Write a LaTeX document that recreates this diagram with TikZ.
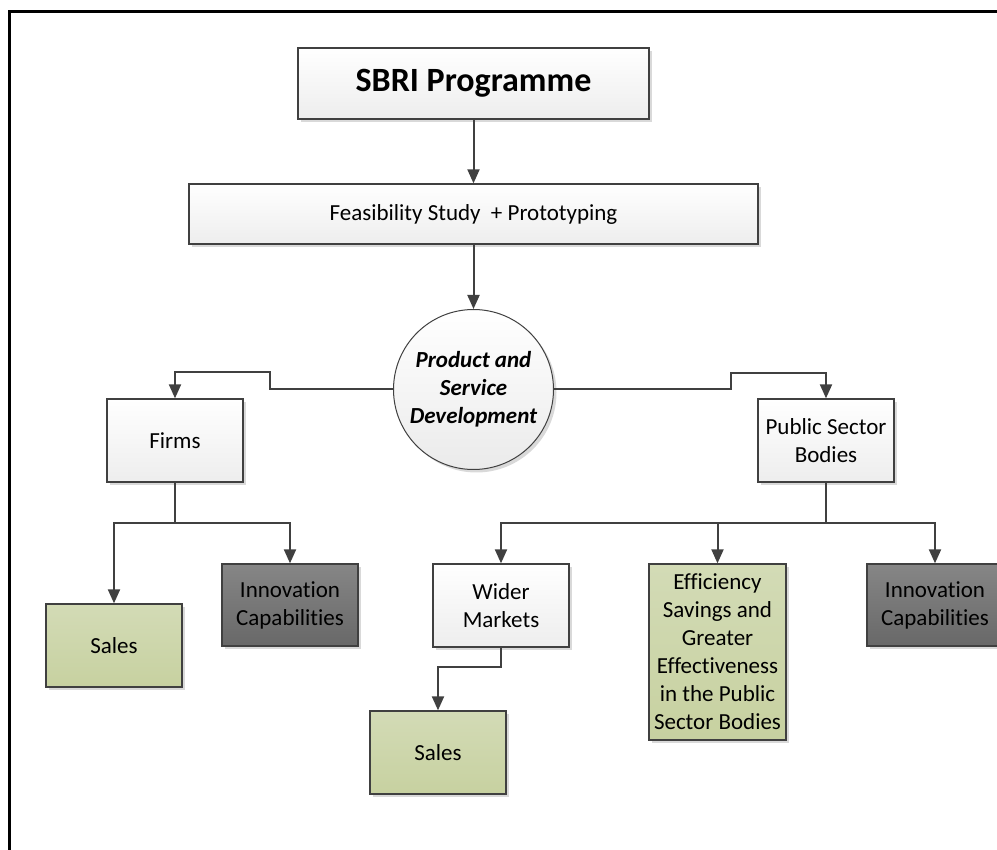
\documentclass[tikz,border=0pt]{standalone}
\usepackage{fontspec}
\setmainfont[Ligatures=NoCommon]{Carlito}
\usetikzlibrary{arrows.meta,shadows}
\definecolor{linegray}{RGB}{64,64,64}
\definecolor{greentop}{RGB}{211,219,182}
\definecolor{greenbot}{RGB}{199,209,160}
\definecolor{darktop}{RGB}{134,134,134}
\definecolor{darkbot}{RGB}{104,104,104}
\tikzset{
  base/.style={draw=linegray, line width=1.3pt, inner sep=0pt, align=center,
    font=\fontsize{23}{28}\selectfont,
    drop shadow={shadow xshift=3pt, shadow yshift=-3pt, fill=black!15, opacity=1}},
  whitebox/.style={base, rectangle, top color=white, bottom color=black!7},
  greenbox/.style={base, rectangle, top color=greentop, bottom color=greenbot},
  darkbox/.style={base, rectangle, top color=darktop, bottom color=darkbot},
  conn/.style={draw=linegray, line width=2pt},
  arr/.style={conn, -{Triangle[width=12pt,length=14pt]}},
}
\begin{document}
\begin{tikzpicture}[x=1pt,y=-1pt]
\useasboundingbox (0,0) rectangle (997,850);
% frame
\draw[line width=3pt] (9,850) -- (9,11.3) -- (1000,11.3);

% nodes
\node[whitebox, minimum width=351pt, minimum height=71pt, font=\fontsize{34}{40}\selectfont\bfseries] (sbri) at (473.5,83.5) {SBRI Programme};
\node[whitebox, minimum width=569pt, minimum height=60pt] (feas) at (473.5,214) {Feasibility Study \ + Prototyping};
\node[base, circle, top color=white, bottom color=black!8, draw=linegray, line width=1pt, minimum size=160pt, font=\fontsize{23}{28}\selectfont\bfseries\itshape] (circ) at (473.5,389.5) {Product and\\Service\\Development};
\node[whitebox, minimum width=136pt, minimum height=83pt] (firms) at (175,440.5) {Firms};
\node[whitebox, minimum width=136pt, minimum height=83pt] (public) at (826,440.5) {Public Sector\\Bodies};
\node[greenbox, minimum width=136pt, minimum height=83pt] (salesL) at (114,645.5) {Sales};
\node[darkbox, minimum width=136pt, minimum height=82pt] (innovL) at (290,605) {Innovation\\Capabilities};
\node[whitebox, minimum width=136pt, minimum height=83pt] (wider) at (501,605.5) {Wider\\Markets};
\node[greenbox, minimum width=137pt, minimum height=176pt] (eff) at (717.5,652) {Efficiency\\Savings and\\Greater\\Effectiveness\\in the Public\\Sector Bodies};
\node[darkbox, minimum width=136pt, minimum height=82pt] (innovR) at (935,605) {Innovation\\Capabilities};
\node[greenbox, minimum width=136pt, minimum height=83pt] (salesR) at (438,752.5) {Sales};

% junction coordinates
\coordinate (cL1) at (270,389.5);
\coordinate (cL2) at (270,372);
\coordinate (cR1) at (731,389.5);
\coordinate (cR2) at (731,373);
\coordinate (fj) at (175,523);
\coordinate (pj) at (826,523);
\coordinate (wj) at (501,667);

% connectors
\draw[arr] (sbri.south) -- (feas.north);
\draw[arr] (feas.south) -- (circ.north);
\draw[arr] (circ.west) -- (cL1) -- (cL2) -| (firms.north);
\draw[arr] (circ.east) -- (cR1) -- (cR2) -| (public.north);
\draw[conn] (firms.south) -- (fj);
\draw[arr] (fj) -| (salesL.north);
\draw[arr] (fj) -| (innovL.north);
\draw[conn] (public.south) -- (pj);
\draw[arr] (pj) -| (wider.north);
\draw[arr] (pj) -| (eff.north);
\draw[arr] (pj) -| (innovR.north);
\draw[arr] (wider.south) -- (wj) -| (salesR.north);
\end{tikzpicture}
\end{document}
